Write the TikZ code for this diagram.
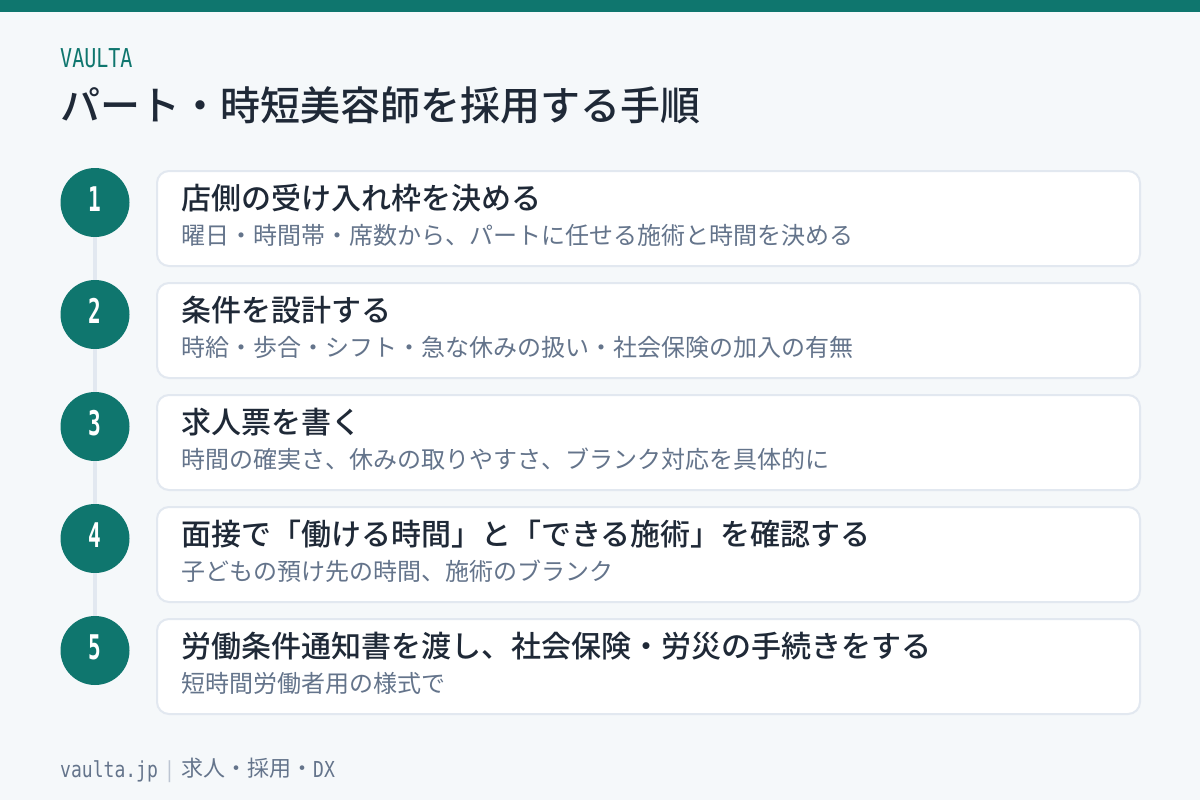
\documentclass[tikz,border=0pt]{standalone}
\usepackage{fontspec}
\newfontfamily\jp{Noto Sans CJK JP}
\newfontfamily\jpm{Noto Sans CJK JP Medium}
\newfontfamily\condmono[FakeStretch=0.77]{DejaVu Sans Mono}
\newfontfamily\nummono[FakeStretch=0.62]{DejaVu Sans Mono}
\newfontfamily\footmono[FakeStretch=0.82]{DejaVu Sans Mono}
\definecolor{brand}{HTML}{0F766E}
\definecolor{bgc}{HTML}{F5F8FA}
\definecolor{ink}{HTML}{1F2937}
\definecolor{subink}{HTML}{64748B}
\definecolor{rail}{HTML}{E2E8F0}
\begin{document}
\begin{tikzpicture}[x=1pt,y=-1pt,
  card/.style={draw=rail, line width=2pt, fill=white, rounded corners=12pt, minimum width=983pt, minimum height=95pt, inner sep=0},
  dot/.style={circle, fill=brand, minimum size=69pt, inner sep=0},
  num/.style={inner sep=0, text=white, font=\nummono\bfseries\fontsize{34}{34}\selectfont, yshift=3.5pt},
  ctitle/.style={anchor=base west, inner sep=0, text=ink, font=\jpm\fontsize{30}{30}\selectfont},
  csub/.style={anchor=base west, inner sep=0, text=subink, font=\jp\fontsize{24}{24}\selectfont},
  foot/.style={anchor=base west, inner sep=0, text=subink}
]
\useasboundingbox (0,0) rectangle (1200,800);
\fill[bgc] (0,0) rectangle (1200,800);
\fill[brand] (0,0) rectangle (1200,12);
\node[anchor=base west, inner sep=0, text=brand, font=\condmono\fontsize{26}{26}\selectfont] (brandname) at (60,67) {VAULTA};
\node[anchor=base west, inner sep=0, text=ink, font=\jpm\fontsize{40}{40}\selectfont] (title) at (60,121) {パート・時短美容師を採用する手順};
\foreach \i/\t/\s in {
 1/{店側の受け入れ枠を決める}/{曜日・時間帯・席数から、パートに任せる施術と時間を決める},
 2/{条件を設計する}/{時給・歩合・シフト・急な休みの扱い・社会保険の加入の有無},
 3/{求人票を書く}/{時間の確実さ、休みの取りやすさ、ブランク対応を具体的に},
 4/{面接で「働ける時間」と「できる施術」を確認する}/{子どもの預け先の時間、施術のブランク},
 5/{労働条件通知書を渡し、社会保険・労災の手続きをする}/{短時間労働者用の様式で}}{
  \pgfmathsetmacro{\dy}{112*(\i-1)}
  \node[card] (k\i) at (648.5,218.5+\dy) {};
  \node[dot] (c\i) at (95,202.5+\dy) {};
  \node[num] (n\i) at (c\i.center) {\i};
  \node[ctitle] (t\i) at (181,209+\dy) {\t};
  \node[csub] (s\i) at (181,244+\dy) {\s};
}
\foreach \a/\b in {1/2,2/3,3/4,4/5}{
  \draw[rail, line width=4pt] (c\a.south) -- (c\b.north);
}
\node[foot, font=\footmono\fontsize{22}{22}\selectfont] (url) at (60,777) {vaulta.jp};
\node[foot, text=rail!70!subink, font=\footmono\fontsize{22}{22}\selectfont] (sep) at (164,777) {|};
\node[foot, font=\jp\fontsize{22}{22}\selectfont] (tags) at (181,776) {求人・採用・};
\node[foot, font=\footmono\fontsize{22}{22}\selectfont] (dx) at (313,777) {DX};
\end{tikzpicture}
\end{document}
